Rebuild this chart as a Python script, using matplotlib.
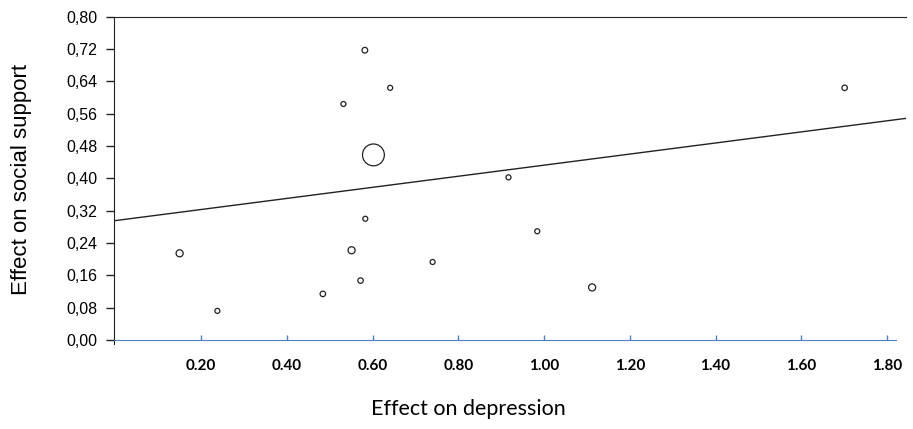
import matplotlib.pyplot as plt
from matplotlib.ticker import FuncFormatter

# 各研究の効果量（抑うつ・ソーシャルサポート）と相対的な重み
effect_depression = [0.150, 0.238, 0.582, 0.641, 0.532, 0.602, 0.917, 0.583,
                     0.551, 0.572, 0.484, 0.740, 0.984, 1.112, 1.701]
effect_support = [0.2145, 0.072, 0.717, 0.624, 0.584, 0.458, 0.4025, 0.300,
                  0.222, 0.147, 0.114, 0.193, 0.269, 0.130, 0.624]
weight = [2.0, 1.0, 1.3, 1.0, 1.0, 19.0, 1.0, 1.0,
          2.0, 1.2, 1.2, 1.0, 1.0, 2.0, 1.2]

# メタ回帰直線
fit_intercept = 0.2954
fit_slope = 0.1372

x_ticks = [0.2, 0.4, 0.6, 0.8, 1.0, 1.2, 1.4, 1.6, 1.8]
y_ticks = [0.0, 0.08, 0.16, 0.24, 0.32, 0.40, 0.48, 0.56, 0.64, 0.72, 0.80]

axis_blue = "#4F81BD"

fig = plt.figure(figsize=(9.13, 4.29), dpi=100)
ax = fig.add_axes([0.1249, 0.1981, 0.8674, 0.7630])

xlim = (-0.003, 1.844)
ax.set_xlim(*xlim)
ax.set_ylim(-0.01, 0.80)

# 回帰直線
ax.plot(list(xlim), [fit_intercept + fit_slope * v for v in xlim],
        color="#222222", linewidth=1.0)

# 研究ごとのバブル
ax.scatter(effect_depression, effect_support, s=[13 * w for w in weight],
           facecolors="white", edgecolors="#222222", linewidths=0.9, zorder=3)

# 軸の見た目
ax.spines["right"].set_visible(False)
ax.spines["top"].set_color("#222222")
ax.spines["left"].set_color("#222222")
ax.spines["bottom"].set_color(axis_blue)
ax.spines["bottom"].set_position(("data", 0))
ax.spines["bottom"].set_bounds(xlim[0], 1.82)

ax.set_yticks(y_ticks)
ax.yaxis.set_major_formatter(FuncFormatter(lambda v, _: f"{v:.2f}".replace(".", ",")))
ax.tick_params(axis="y", direction="out", length=5.8, width=1, color="#222222",
               pad=6, labelsize=11.5)
for lbl in ax.get_yticklabels():
    lbl.set_fontfamily("Liberation Sans")

ax.set_xticks(x_ticks)
ax.xaxis.set_major_formatter(FuncFormatter(lambda v, _: f"{v:.2f}"))
ax.tick_params(axis="x", direction="in", length=3.6, width=1, color=axis_blue,
               pad=13.5, labelsize=11)
for lbl in ax.get_xticklabels():
    lbl.set_fontfamily("Lato")
    lbl.set_fontweight("bold")

ax.set_ylabel("Effect on social support", fontsize=16, family="Liberation Sans")
ax.yaxis.set_label_coords(-0.104, 0.504)
ax.set_xlabel("Effect on depression", fontsize=15.5, family="Lato")
ax.xaxis.set_label_coords(0.447, -0.168)

fig.savefig("out.png", dpi=100)
